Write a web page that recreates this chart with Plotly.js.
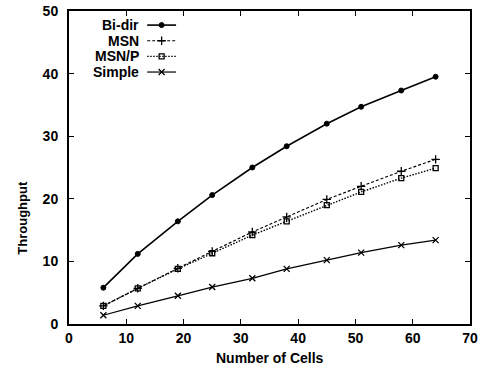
<!DOCTYPE html>
<html><head><meta charset="utf-8">
<script src="https://cdn.plot.ly/plotly-3.0.1.min.js"></script>
<style>body{margin:0;background:#fff}#c{width:487px;height:370px}</style>
</head><body><div id="c"></div>
<script>
const cells = [6, 12, 19, 25, 32, 38, 45, 51, 58, 64];
const biDir = [5.8, 11.2, 16.4, 20.6, 25.0, 28.4, 32.0, 34.7, 37.3, 39.5];
const msn = [2.9, 5.7, 8.9, 11.6, 14.7, 17.1, 19.9, 22.0, 24.4, 26.3];
const msnP = [2.9, 5.7, 8.8, 11.3, 14.2, 16.4, 19.0, 21.1, 23.3, 24.9];
const simple = [1.4, 2.9, 4.5, 5.9, 7.3, 8.8, 10.2, 11.4, 12.6, 13.4];
const seriesNames = ['Bi-dir', 'MSN', 'MSN/P', 'Simple'];
const xTicks = [0, 10, 20, 30, 40, 50, 60, 70];
const yTicks = [0, 10, 20, 30, 40, 50];

const styles = [
  {dash: 'solid', width: 1.6, symbol: 'circle', size: 5, lw: 1},
  {dash: '3px,2px', width: 1.2, symbol: 'cross-thin', size: 6, lw: 1.3},
  {dash: '1.5px,1.5px', width: 1.4, symbol: 'square-open', size: 5, lw: 1.3},
  {dash: 'solid', width: 1.2, symbol: 'x-thin', size: 6, lw: 1.3}
];
const ys = [biDir, msn, msnP, simple];
const traces = ys.map((y, i) => ({
  x: cells, y: y, type: 'scatter', mode: 'lines+markers', name: seriesNames[i],
  line: {color: '#000', width: styles[i].width, dash: styles[i].dash},
  marker: {color: '#000', symbol: styles[i].symbol, size: styles[i].size,
           line: {color: '#000', width: styles[i].lw}},
  showlegend: false
}));

// custom gnuplot-style legend: text right-aligned, sample to the right
const font = {family: 'Liberation Sans, Arial, sans-serif', size: 14, color: '#000', weight: 'bold'};
const annotations = [];
const shapes = [];
const legTop = 0.955, legStep = 0.05;
const textRight = 0.18, sampleL = 0.195, sampleR = 0.267;
seriesNames.forEach((n, i) => {
  const yy = legTop - i * legStep;
  annotations.push({xref: 'paper', yref: 'paper', x: textRight, y: yy, xanchor: 'right', yanchor: 'middle',
    text: '<b>' + n + '</b>', showarrow: false, font: font});
  shapes.push({type: 'line', xref: 'paper', yref: 'paper', x0: sampleL, x1: sampleR, y0: yy, y1: yy,
    line: {color: '#000', width: styles[i].width, dash: styles[i].dash}});
});
// legend sample markers via a hidden overlay axis in paper units
const mx = (sampleL + sampleR) / 2;
seriesNames.forEach((n, i) => {
  traces.push({x: [mx], y: [legTop - i * legStep], xaxis: 'x2', yaxis: 'y2', type: 'scatter', mode: 'markers',
    marker: {color: '#000', symbol: styles[i].symbol, size: styles[i].size, line: {color: '#000', width: styles[i].lw}},
    showlegend: false, hoverinfo: 'skip'});
});

annotations.push({xref: 'paper', yref: 'paper', x: 0.5, y: -0.078, xanchor: 'center', yanchor: 'top',
  text: '<b>Number of Cells</b>', showarrow: false, font: {family: font.family, size: 14, color: '#000'}});
annotations.push({xref: 'paper', yref: 'paper', x: -0.117, y: 0.34, xanchor: 'center', yanchor: 'middle',
  text: '<b>Throughput</b>', textangle: -90, showarrow: false, font: {family: font.family, size: 13, color: '#000'}});

const axBase = {
  showgrid: false, zeroline: false, showline: true, linecolor: '#000', linewidth: 2, mirror: 'ticks',
  ticks: 'inside', ticklen: 5, tickwidth: 1, tickcolor: '#000',
  tickfont: {family: font.family, size: 14, color: '#000', weight: 'bold'}
};
const layout = {
  width: 487, height: 370, paper_bgcolor: '#fff', plot_bgcolor: '#fff',
  margin: {l: 69, r: 17, t: 11, b: 46},
  xaxis: Object.assign({}, axBase, {range: [0, 70], tickvals: xTicks, ticktext: xTicks.map(String)}),
  yaxis: Object.assign({}, axBase, {range: [0, 50], tickvals: yTicks, ticktext: yTicks.map(String), ticklabelstandoff: 6}),
  xaxis2: {overlaying: 'x', range: [0, 1], visible: false, fixedrange: true},
  yaxis2: {overlaying: 'y', range: [0, 1], visible: false, fixedrange: true},
  annotations: annotations, shapes: shapes, showlegend: false
};
Plotly.newPlot('c', traces, layout, {displayModeBar: false, staticPlot: true});
</script></body></html>
